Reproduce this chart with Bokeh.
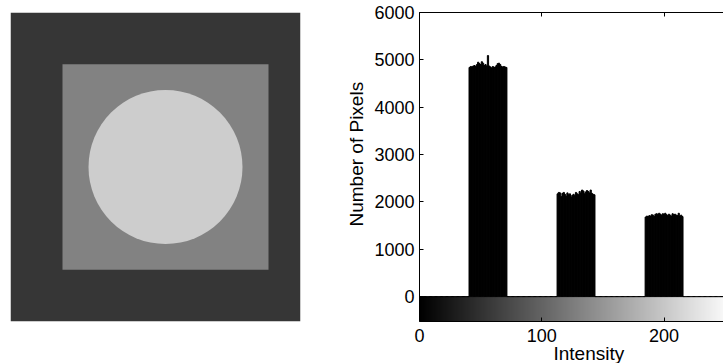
import numpy as np
from bokeh.plotting import figure
from bokeh.layouts import row
from bokeh.models import Range1d, FixedTicker, LinearAxis, Title, LinearColorMapper
from bokeh.palettes import gray
from bokeh.embed import file_html
from bokeh.resources import INLINE

# ---------------- data ----------------
# phantom image (pixel coordinates of the image)
image_size = [290, 310]                 # width, height
square_edges = [52, 258]                # square from..to (both axes)
circle_center = [155, 155]
circle_radius = 77
region_intensity = [54, 130, 205]       # background, square, circle

# histogram: counts per intensity bin (0..255), three non-empty blocks
n_bins = 256
block_starts = [41, 113, 185]
block1 = [4840, 4860, 4850, 4870, 4880, 4860, 4900, 4950, 4920, 4900, 4960,
          4930, 4880, 4900, 4870, 5090, 4870, 4850, 4830, 4860, 4840, 4850,
          4880, 4920, 4930, 4900, 4860, 4850, 4860, 4850, 4840]
block2 = [2170, 2200, 2190, 2110, 2180, 2200, 2160, 2120, 2190, 2150, 2170,
          2100, 2140, 2160, 2130, 2200, 2170, 2150, 2220, 2180, 2250, 2230,
          2170, 2210, 2240, 2220, 2190, 2250, 2180, 2160, 2150]
block3 = [1680, 1700, 1690, 1710, 1700, 1730, 1720, 1690, 1740, 1750, 1730,
          1760, 1740, 1720, 1750, 1740, 1760, 1730, 1710, 1740, 1720, 1700,
          1750, 1730, 1740, 1720, 1710, 1760, 1700, 1720, 1690]
y_ticks = [0, 1000, 2000, 3000, 4000, 5000, 6000]
x_ticks = [0, 100, 200]

FONT = "Liberation Sans"

def grey(v):
    return "#%02x%02x%02x" % (v, v, v)

# ---------------- left: image ----------------
W, H = image_size
p1 = figure(width=310, height=363, output_backend="svg", toolbar_location=None,
            x_range=Range1d(0, W), y_range=Range1d(H, 0),
            min_border_left=10, min_border_right=10, min_border_top=11, min_border_bottom=42)
p1.axis.visible = False
p1.grid.visible = False
p1.outline_line_color = None
p1.quad(left=[0], right=[W], top=[0], bottom=[H], fill_color=grey(region_intensity[0]), line_color=None)
p1.quad(left=[square_edges[0]], right=[square_edges[1]], top=[square_edges[0]], bottom=[square_edges[1]],
        fill_color=grey(region_intensity[1]), line_color=None)
p1.circle(x=[circle_center[0]], y=[circle_center[1]], radius=circle_radius,
          fill_color=grey(region_intensity[2]), line_color=None)

# ---------------- right: histogram ----------------
counts = np.zeros(n_bins)
for start, blk in zip(block_starts, [block1, block2, block3]):
    counts[start:start + len(blk)] = blk
bins = np.arange(n_bins)

y_low = -526
p2 = figure(width=413, height=363, output_backend="svg", toolbar_location=None,
            x_range=Range1d(0, 248.6), y_range=Range1d(y_low, 6000),
            min_border_left=109, min_border_right=0, min_border_top=12, min_border_bottom=41)
p2.grid.visible = False
p2.outline_line_color = None
p2.background_fill_color = "white"

# grayscale intensity bar below the histogram
mapper = LinearColorMapper(palette=gray(256), low=0, high=n_bins - 1)
p2.image(image=[bins.reshape(1, n_bins)], x=0, y=y_low, dw=n_bins, dh=-y_low, color_mapper=mapper)

p2.quad(left=bins - 0.5, right=bins + 0.5, top=counts, bottom=0,
        fill_color="black", line_color="black", line_width=1)

# axes
p2.yaxis.ticker = FixedTicker(ticks=y_ticks)
p2.xaxis.ticker = FixedTicker(ticks=x_ticks)
for ax in (p2.xaxis[0], p2.yaxis[0]):
    ax.major_tick_in = 4
    ax.major_tick_out = 0
    ax.minor_tick_in = 0
    ax.minor_tick_out = 0
    ax.axis_line_color = "black"
    ax.major_tick_line_color = "black"
    ax.major_label_text_font = FONT
    ax.major_label_text_font_size = "18px"
    ax.major_label_text_color = "black"
p2.yaxis.major_label_standoff = 5
p2.xaxis.major_label_standoff = 7

top = LinearAxis(ticker=FixedTicker(ticks=x_ticks), major_tick_in=4, major_tick_out=0,
                 minor_tick_in=0, minor_tick_out=0, major_label_text_font_size="1px",
                 major_label_text_color=None, major_label_standoff=0,
                 axis_line_color="black")
p2.add_layout(top, "above")

p2.add_layout(Title(text="Number of Pixels", align="left", offset=95, standoff=10,
                    text_font=FONT, text_font_size="19px", text_font_style="normal",
                    text_color="black"), "left")
p2.add_layout(Title(text="Intensity", align="left", offset=134, standoff=-7,
                    text_font=FONT, text_font_size="19px", text_font_style="normal",
                    text_color="black"), "below")

layout = row(p1, p2)
open("out.html", "w").write(file_html(layout, INLINE))
